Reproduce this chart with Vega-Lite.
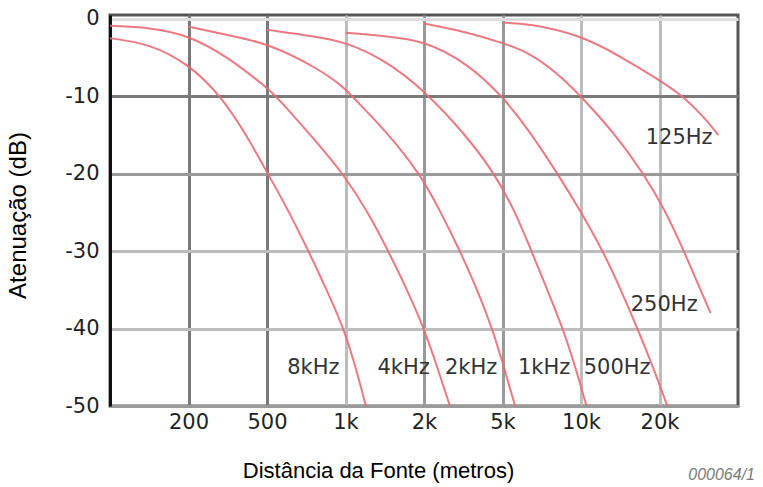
{
  "$schema": "https://vega.github.io/schema/vega-lite/v6.json",
  "width": 628,
  "height": 391,
  "autosize": {"type": "none"},
  "padding": {"left": 110, "top": 15, "right": 25, "bottom": 81},
  "background": "white",
  "config": {"view": {"stroke": "#555555", "strokeWidth": 3}},
  "title": {
    "text": "000064/1",
    "orient": "bottom",
    "anchor": "end",
    "frame": "group",
    "font": "Liberation Sans",
    "fontStyle": "italic",
    "fontWeight": "normal",
    "fontSize": 16,
    "color": "#7a7a7a",
    "offset": 0,
    "dx": 17,
    "dy": -14
  },
  "datasets": {
    "curves": [
      {"f": "8kHz", "x": 0, "y": -2.5}, {"f": "8kHz", "x": 0.5, "y": -3.2}, {"f": "8kHz", "x": 1, "y": -5.8}, {"f": "8kHz", "x": 1.42, "y": -10}, {"f": "8kHz", "x": 1.75, "y": -15.2}, {"f": "8kHz", "x": 2, "y": -19.8}, {"f": "8kHz", "x": 2.27, "y": -24.7}, {"f": "8kHz", "x": 2.52, "y": -29.8}, {"f": "8kHz", "x": 2.76, "y": -35}, {"f": "8kHz", "x": 2.98, "y": -40}, {"f": "8kHz", "x": 3.13, "y": -45}, {"f": "8kHz", "x": 3.26, "y": -50},
      {"f": "4kHz", "x": 0, "y": -0.9}, {"f": "4kHz", "x": 0.5, "y": -1.1}, {"f": "4kHz", "x": 1, "y": -2.1}, {"f": "4kHz", "x": 1.5, "y": -4.9}, {"f": "4kHz", "x": 2, "y": -8.9}, {"f": "4kHz", "x": 2.12, "y": -10}, {"f": "4kHz", "x": 2.64, "y": -16}, {"f": "4kHz", "x": 2.97, "y": -20}, {"f": "4kHz", "x": 3.29, "y": -25}, {"f": "4kHz", "x": 3.56, "y": -30.3}, {"f": "4kHz", "x": 3.8, "y": -35.3}, {"f": "4kHz", "x": 4, "y": -40}, {"f": "4kHz", "x": 4.17, "y": -45}, {"f": "4kHz", "x": 4.33, "y": -50},
      {"f": "2kHz", "x": 1, "y": -1.0}, {"f": "2kHz", "x": 1.5, "y": -2.1}, {"f": "2kHz", "x": 2, "y": -3.1}, {"f": "2kHz", "x": 2.64, "y": -6.3}, {"f": "2kHz", "x": 3, "y": -9}, {"f": "2kHz", "x": 3.08, "y": -10}, {"f": "2kHz", "x": 3.5, "y": -14.3}, {"f": "2kHz", "x": 3.95, "y": -20}, {"f": "2kHz", "x": 4.2, "y": -24.7}, {"f": "2kHz", "x": 4.46, "y": -30}, {"f": "2kHz", "x": 4.68, "y": -35}, {"f": "2kHz", "x": 4.87, "y": -40}, {"f": "2kHz", "x": 5.02, "y": -45}, {"f": "2kHz", "x": 5.16, "y": -50},
      {"f": "1kHz", "x": 2, "y": -1.4}, {"f": "1kHz", "x": 2.64, "y": -2.3}, {"f": "1kHz", "x": 3, "y": -3.0}, {"f": "1kHz", "x": 3.5, "y": -5.3}, {"f": "1kHz", "x": 4, "y": -9.2}, {"f": "1kHz", "x": 4.55, "y": -15.2}, {"f": "1kHz", "x": 4.9, "y": -20}, {"f": "1kHz", "x": 5.15, "y": -24.7}, {"f": "1kHz", "x": 5.33, "y": -29}, {"f": "1kHz", "x": 5.55, "y": -34.5}, {"f": "1kHz", "x": 5.77, "y": -40}, {"f": "1kHz", "x": 5.93, "y": -45}, {"f": "1kHz", "x": 6.07, "y": -50},
      {"f": "500Hz", "x": 3, "y": -1.8}, {"f": "500Hz", "x": 3.5, "y": -2.2}, {"f": "500Hz", "x": 4, "y": -2.8}, {"f": "500Hz", "x": 4.55, "y": -5.7}, {"f": "500Hz", "x": 5, "y": -10}, {"f": "500Hz", "x": 5.33, "y": -14.3}, {"f": "500Hz", "x": 5.69, "y": -19.8}, {"f": "500Hz", "x": 6, "y": -24.9}, {"f": "500Hz", "x": 6.28, "y": -30}, {"f": "500Hz", "x": 6.5, "y": -34.8}, {"f": "500Hz", "x": 6.72, "y": -40}, {"f": "500Hz", "x": 6.92, "y": -45}, {"f": "500Hz", "x": 7.1, "y": -50},
      {"f": "250Hz", "x": 4, "y": -0.6}, {"f": "250Hz", "x": 4.55, "y": -1.7}, {"f": "250Hz", "x": 5, "y": -3.1}, {"f": "250Hz", "x": 5.33, "y": -4.3}, {"f": "250Hz", "x": 5.7, "y": -7}, {"f": "250Hz", "x": 6, "y": -10}, {"f": "250Hz", "x": 6.42, "y": -14.7}, {"f": "250Hz", "x": 6.8, "y": -20}, {"f": "250Hz", "x": 7.07, "y": -24.7}, {"f": "250Hz", "x": 7.29, "y": -29.5}, {"f": "250Hz", "x": 7.48, "y": -34}, {"f": "250Hz", "x": 7.65, "y": -38},
      {"f": "125Hz", "x": 5, "y": -0.5}, {"f": "125Hz", "x": 5.33, "y": -0.6}, {"f": "125Hz", "x": 6, "y": -2.1}, {"f": "125Hz", "x": 6.51, "y": -4.9}, {"f": "125Hz", "x": 7, "y": -7.9}, {"f": "125Hz", "x": 7.3, "y": -10}, {"f": "125Hz", "x": 7.55, "y": -12.5}, {"f": "125Hz", "x": 7.75, "y": -15}
    ],
    "labels": [
      {"label": "8kHz", "x": 2.59, "y": -45.1},
      {"label": "4kHz", "x": 3.74, "y": -45.1},
      {"label": "2kHz", "x": 4.6, "y": -45.1},
      {"label": "1kHz", "x": 5.53, "y": -45.1},
      {"label": "500Hz", "x": 6.46, "y": -45.1},
      {"label": "250Hz", "x": 7.06, "y": -37.0},
      {"label": "125Hz", "x": 7.25, "y": -15.4}
    ]
  },
  "layer": [
    {
      "data": {"name": "curves"},
      "mark": {"type": "line", "interpolate": "basis", "strokeWidth": 2, "color": "#ea6a73", "opacity": 0.9},
      "encoding": {
        "x": {
          "field": "x", "type": "quantitative",
          "scale": {"domain": [0, 8], "nice": false, "zero": false},
          "axis": {
            "title": "Distância da Fonte (metros)",
            "values": [1, 2, 3, 4, 5, 6, 7],
            "labelExpr": "['100','200','500','1k','2k','5k','10k','20k','50k'][datum.value]",
            "ticks": false,
            "labelPadding": 5,
            "labelFont": "DejaVu Sans",
            "labelFontSize": 21,
            "labelColor": "#222222",
            "labelFlush": false,
            "labelOverlap": false,
            "domainColor": "#9a9a9a",
            "domainWidth": 3,
            "grid": true,
            "gridWidth": 3,
            "gridOpacity": 1,
            "gridColor": {"condition": [{"test": "datum.value == 1 || datum.value == 2", "value": "#7a7a7a"}, {"test": "datum.value == 4 || datum.value == 5", "value": "#9a9a9a"}], "value": "#bdbdbd"},
            "titleFont": "Liberation Sans",
            "titleFontSize": 22,
            "titleFontWeight": "normal",
            "titleColor": "#000000",
            "titleX": 268,
            "titleY": 64,
            "titleAlign": "center",
            "titleBaseline": "middle"
          }
        },
        "y": {
          "field": "y", "type": "quantitative",
          "scale": {"domain": [-50, 0.5], "nice": false, "zero": false},
          "axis": {
            "title": "Atenuação (dB)",
            "values": [0, -10, -20, -30, -40, -50],
            "labelExpr": "'' + datum.value",
            "ticks": false,
            "labelPadding": 11,
            "labelFont": "DejaVu Sans",
            "labelFontSize": 21,
            "labelColor": "#222222",
            "labelFlush": false,
            "labelOverlap": false,
            "domainColor": "#111111",
            "domainWidth": 3,
            "grid": true,
            "gridWidth": 3,
            "gridOpacity": 1,
            "gridColor": {"condition": [{"test": "datum.value == -10", "value": "#7a7a7a"}, {"test": "datum.value == -20", "value": "#9a9a9a"}, {"test": "datum.value == 0", "value": "#dddddd"}], "value": "#bdbdbd"},
            "titleFont": "Liberation Sans",
            "titleFontSize": 24,
            "titleFontWeight": "normal",
            "titleColor": "#000000",
            "titleX": -92,
            "titleY": 200,
            "titleAngle": -90,
            "titleAlign": "center",
            "titleBaseline": "middle"
          }
        },
        "detail": {"field": "f", "type": "nominal"}
      }
    },
    {
      "data": {"name": "labels"},
      "mark": {"type": "text", "font": "DejaVu Sans", "fontSize": 21, "color": "#333333", "align": "center", "baseline": "middle"},
      "encoding": {
        "x": {"field": "x", "type": "quantitative"},
        "y": {"field": "y", "type": "quantitative"},
        "text": {"field": "label", "type": "nominal"}
      }
    }
  ]
}
